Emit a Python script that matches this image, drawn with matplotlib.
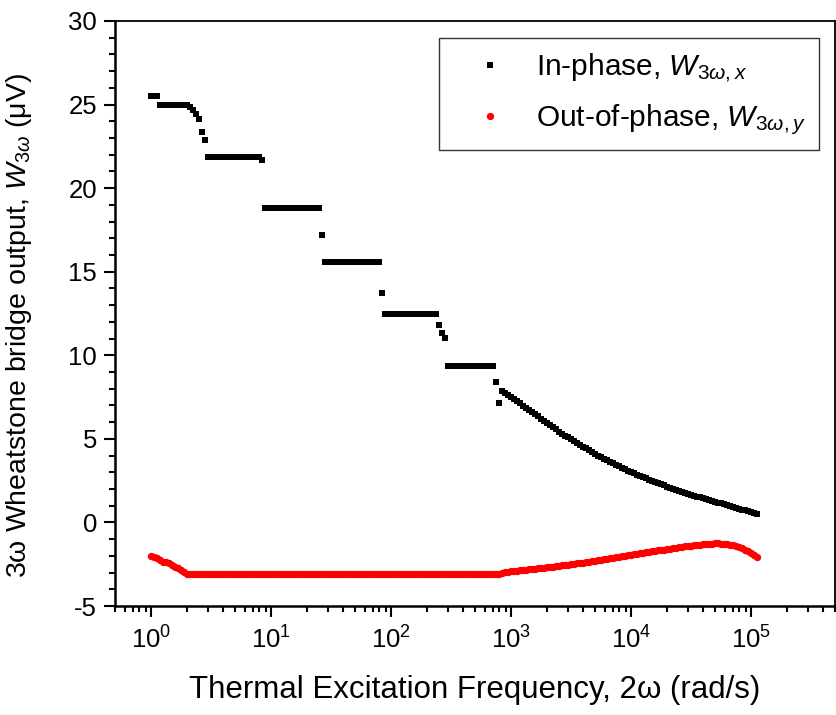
import matplotlib
matplotlib.use("Agg")
import matplotlib.pyplot as plt
from matplotlib.ticker import FixedLocator, LogLocator, MultipleLocator, NullFormatter

plt.rcParams['font.family'] = ['Liberation Sans', 'DejaVu Sans']
plt.rcParams['mathtext.fontset'] = 'custom'
plt.rcParams['mathtext.rm'] = 'Liberation Sans'
plt.rcParams['mathtext.it'] = 'Liberation Sans:italic'
plt.rcParams['mathtext.bf'] = 'Liberation Sans:bold'
plt.rcParams['axes.unicode_minus'] = False

# Excitation frequency 2w (rad/s)
freq = [
    1.000, 1.059, 1.122, 1.189, 1.259, 1.334, 1.413, 1.496, 1.585, 1.679,
    1.778, 1.884, 1.995, 2.113, 2.239, 2.371, 2.512, 2.661, 2.818, 2.985,
    3.162, 3.350, 3.548, 3.758, 3.981, 4.217, 4.467, 4.732, 5.012, 5.309,
    5.623, 5.957, 6.310, 6.683, 7.079, 7.499, 7.943, 8.414, 8.913, 9.441,
    10.00, 10.59, 11.22, 11.89, 12.59, 13.34, 14.13, 14.96, 15.85, 16.79,
    17.78, 18.84, 19.95, 21.13, 22.39, 23.71, 25.12, 26.61, 28.18, 29.85,
    31.62, 33.50, 35.48, 37.58, 39.81, 42.17, 44.67, 47.32, 50.12, 53.09,
    56.23, 59.57, 63.10, 66.83, 70.79, 74.99, 79.43, 84.14, 89.13, 94.41,
    100.0, 105.9, 112.2, 118.9, 125.9, 133.4, 141.3, 149.6, 158.5, 167.9,
    177.8, 188.4, 199.5, 211.3, 223.9, 237.1, 251.2, 266.1, 281.8, 298.5,
    316.2, 335.0, 354.8, 375.8, 398.1, 421.7, 446.7, 473.2, 501.2, 530.9,
    562.3, 595.7, 631.0, 668.3, 707.9, 749.9, 794.3, 841.4, 891.3, 944.1,
    1000, 1059, 1122, 1189, 1259, 1334, 1413, 1496, 1585, 1679,
    1778, 1884, 1995, 2113, 2239, 2371, 2512, 2661, 2818, 2985,
    3162, 3350, 3548, 3758, 3981, 4217, 4467, 4732, 5012, 5309,
    5623, 5957, 6310, 6683, 7079, 7499, 7943, 8414, 8913, 9441,
    10000, 10590, 11220, 11890, 12590, 13340, 14130, 14960, 15850, 16790,
    17780, 18840, 19950, 21130, 22390, 23710, 25120, 26610, 28180, 29850,
    31620, 33500, 35480, 37580, 39810, 42170, 44670, 47320, 50120, 53090,
    56230, 59570, 63100, 66830, 70790, 74990, 79430, 84140, 89130, 94410,
    100000, 105900, 112200,
]

# In-phase component W_3w,x (uV)
in_phase = [
    25.5, 25.5, 25.5, 25.0, 25.0, 25.0, 25.0, 25.0, 25.0, 25.0,
    25.0, 25.0, 24.95, 24.87, 24.7, 24.45, 24.12, 23.38, 22.86, 21.85,
    21.85, 21.85, 21.85, 21.85, 21.85, 21.85, 21.85, 21.85, 21.85, 21.85,
    21.85, 21.85, 21.85, 21.85, 21.85, 21.85, 21.85, 21.7, 18.8, 18.8,
    18.8, 18.8, 18.8, 18.8, 18.8, 18.8, 18.8, 18.8, 18.8, 18.8,
    18.8, 18.8, 18.8, 18.8, 18.8, 18.8, 18.8, 17.2, 15.6, 15.6,
    15.6, 15.6, 15.6, 15.6, 15.6, 15.6, 15.6, 15.6, 15.6, 15.6,
    15.6, 15.6, 15.6, 15.6, 15.6, 15.6, 15.6, 13.7, 12.5, 12.5,
    12.5, 12.5, 12.5, 12.5, 12.5, 12.5, 12.5, 12.5, 12.5, 12.5,
    12.5, 12.5, 12.5, 12.5, 12.5, 12.5, 11.8, 11.33, 11.03, 9.35,
    9.35, 9.35, 9.35, 9.35, 9.35, 9.35, 9.35, 9.35, 9.35, 9.35,
    9.35, 9.35, 9.35, 9.35, 9.35, 8.4, 7.15, 7.89, 7.76, 7.63,
    7.50, 7.37, 7.25, 7.12, 6.99, 6.86, 6.73, 6.60, 6.47, 6.34,
    6.21, 6.08, 5.95, 5.82, 5.69, 5.56, 5.44, 5.31, 5.20, 5.09,
    4.98, 4.87, 4.76, 4.65, 4.54, 4.43, 4.33, 4.22, 4.11, 4.00,
    3.90, 3.81, 3.72, 3.63, 3.54, 3.45, 3.36, 3.27, 3.18, 3.10,
    3.01, 2.93, 2.86, 2.78, 2.71, 2.63, 2.56, 2.48, 2.41, 2.33,
    2.27, 2.21, 2.14, 2.08, 2.02, 1.96, 1.90, 1.84, 1.77, 1.71,
    1.65, 1.60, 1.55, 1.50, 1.45, 1.40, 1.34, 1.29, 1.24, 1.19,
    1.14, 1.09, 1.04, 0.98, 0.93, 0.88, 0.82, 0.77, 0.72, 0.66,
    0.61, 0.56, 0.50,
]

# Out-of-phase component W_3w,y (uV)
out_phase = [
    -2.02, -2.08, -2.14, -2.25, -2.35, -2.38, -2.44, -2.52, -2.64, -2.74,
    -2.86, -2.98, -3.09, -3.11, -3.11, -3.11, -3.11, -3.11, -3.11, -3.11,
    -3.11, -3.11, -3.11, -3.11, -3.11, -3.11, -3.11, -3.11, -3.11, -3.11,
    -3.11, -3.11, -3.11, -3.11, -3.11, -3.11, -3.11, -3.11, -3.11, -3.11,
    -3.11, -3.11, -3.11, -3.11, -3.11, -3.11, -3.11, -3.11, -3.11, -3.11,
    -3.11, -3.11, -3.11, -3.11, -3.11, -3.11, -3.11, -3.11, -3.11, -3.11,
    -3.11, -3.11, -3.11, -3.11, -3.11, -3.11, -3.11, -3.11, -3.11, -3.11,
    -3.11, -3.11, -3.11, -3.11, -3.11, -3.11, -3.11, -3.11, -3.11, -3.11,
    -3.11, -3.11, -3.11, -3.11, -3.11, -3.11, -3.11, -3.11, -3.11, -3.11,
    -3.11, -3.11, -3.11, -3.11, -3.11, -3.11, -3.11, -3.11, -3.11, -3.11,
    -3.11, -3.11, -3.11, -3.11, -3.11, -3.11, -3.11, -3.11, -3.11, -3.11,
    -3.11, -3.11, -3.11, -3.11, -3.11, -3.10, -3.07, -3.02, -2.97, -2.95,
    -2.93, -2.91, -2.89, -2.87, -2.85, -2.83, -2.81, -2.79, -2.77, -2.75,
    -2.73, -2.71, -2.68, -2.66, -2.64, -2.61, -2.59, -2.56, -2.54, -2.52,
    -2.49, -2.47, -2.44, -2.42, -2.40, -2.37, -2.34, -2.31, -2.28, -2.25,
    -2.22, -2.19, -2.16, -2.13, -2.10, -2.08, -2.05, -2.02, -1.99, -1.96,
    -1.93, -1.90, -1.88, -1.85, -1.82, -1.79, -1.76, -1.73, -1.70, -1.67,
    -1.65, -1.62, -1.59, -1.56, -1.53, -1.51, -1.48, -1.46, -1.43, -1.41,
    -1.39, -1.37, -1.35, -1.33, -1.31, -1.29, -1.28, -1.27, -1.26, -1.26,
    -1.27, -1.28, -1.30, -1.33, -1.37, -1.42, -1.48, -1.55, -1.63, -1.72,
    -1.82, -1.94, -2.08,
]

# Decade tick positions on the frequency axis
decade_ticks = [1, 10, 100, 1000, 10000, 100000]

fig = plt.figure(figsize=(8.37, 7.15), dpi=100)
ax = fig.add_axes([115 / 837, 109 / 715, 720 / 837, 585 / 715])

ax.plot(freq, in_phase, linestyle='none', marker='s', markersize=4.7,
        color='black', markeredgewidth=0, label=r'In-phase, $W_{3\omega,x}$')
ax.plot(freq, out_phase, linestyle='none', marker='o', markersize=5.3,
        color='red', markeredgewidth=0, label=r'Out-of-phase, $W_{3\omega,y}$')

ax.set_xscale('log')
ax.set_xlim(0.5, 5e5)
ax.set_ylim(-5, 30)

ax.xaxis.set_major_locator(FixedLocator(decade_ticks))
ax.xaxis.set_minor_locator(LogLocator(base=10, subs=range(2, 10), numticks=20))
ax.xaxis.set_minor_formatter(NullFormatter())
ax.yaxis.set_major_locator(MultipleLocator(5))
ax.yaxis.set_minor_locator(MultipleLocator(1))

ax.tick_params(which='both', direction='out', top=False, right=False,
               labelsize=18.5, width=1.5, color='black')
ax.tick_params(which='major', length=8, pad=5)
ax.tick_params(which='minor', length=4.5)
ax.tick_params(axis='x', which='major', pad=7)

for side in ('left', 'bottom'):
    ax.spines[side].set_linewidth(1.8)
for side in ('top', 'right'):
    ax.spines[side].set_linewidth(1.3)

ax.set_xlabel('Thermal Excitation Frequency, 2ω (rad/s)', fontsize=22.5, labelpad=15)
ax.set_ylabel(r'3ω Wheatstone bridge output, $W_{3\omega}$ (μV)', fontsize=20.5)
ax.yaxis.set_label_coords(-0.112, 0.479)

leg = ax.legend(loc='upper right', bbox_to_anchor=(0.978, 0.971), fontsize=21.5,
                numpoints=1, frameon=True, fancybox=False, borderaxespad=0,
                handlelength=2.5, handletextpad=0.29, borderpad=0.45, labelspacing=0.6,
                markerscale=1.0)
leg.get_frame().set_edgecolor('black')
leg.get_frame().set_linewidth(1.0)

fig.savefig('out.png', dpi=100)
